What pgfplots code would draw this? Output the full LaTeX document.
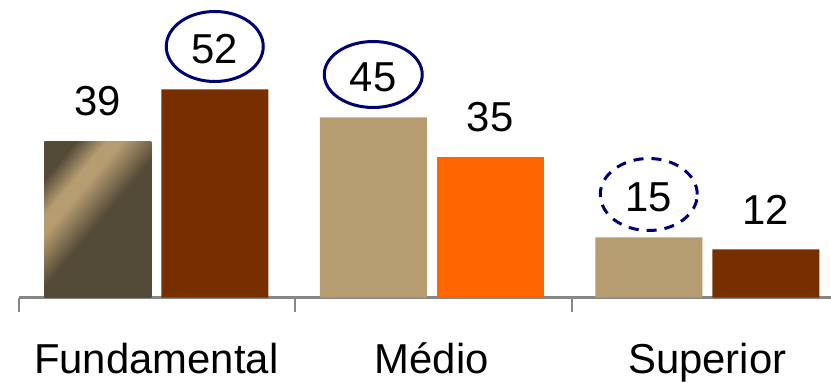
\documentclass[border=0pt]{standalone}
\usepackage{pgfplots}
\pgfplotsset{compat=1.18}
\usepackage{fontspec}
\setmainfont{Liberation Sans}

\definecolor{sand}{HTML}{B59C71}
\definecolor{olive}{HTML}{544A38}
\definecolor{rust}{HTML}{772F00}
\definecolor{flame}{HTML}{FF6600}
\definecolor{navy}{HTML}{000075}
\definecolor{rule}{HTML}{878787}

% diagonal highlight for the first bar
\pgfdeclarehorizontalshading{sheen}{100bp}{%
  color(0bp)=(olive); color(24bp)=(olive); color(33bp)=(sand);
  color(38bp)=(sand); color(51bp)=(olive); color(100bp)=(olive)}

\newcommand\labelfont{\fontsize{42}{50}\selectfont}

\begin{document}
\begin{tikzpicture}
\path[use as bounding box] (0,0) rectangle (831bp,383bp);
\begin{axis}[
  at={(18.5bp,85.5bp)}, anchor=south west,
  scale only axis, x=275.5bp, y=4bp,
  xmin=-0.5, xmax=2.5, ymin=0, ymax=70,
  axis x line*=bottom, axis y line=none,
  xtick={-0.5,0.505,1.51,2.5}, xticklabels={},
  tick align=outside, major tick length=14bp,
  x axis line style={draw=rule, line width=2bp},
  every tick/.style={draw=rule, line width=2bp},
  clip=false,
  ybar, bar width=107bp,
  nodes near coords,
  /pgf/number format/assume math mode=true,
  every node near coord/.append style={font=\labelfont, inner sep=0pt,
    anchor=south, yshift=25bp, text=black},
]
% first bar of each group
\addplot[bar shift=-58.5bp, draw=none, fill=sand]
  coordinates {(1,45) (2,15)};
\addplot[bar shift=-58.5bp, draw=none, shading=sheen, shading angle=-40]
  coordinates {(0,39)};
% second bar of each group
\addplot[bar shift=58.5bp, draw=none, fill=rust]
  coordinates {(0,52) (2,12)};
\addplot[bar shift=58.5bp, draw=none, fill=flame]
  coordinates {(1,35)};

% highlighted values
\draw[navy, line width=3bp] ([xshift=58.5bp,yshift=43bp]axis cs:0,52)
  ellipse [x radius=48.5bp, y radius=35bp];
\draw[navy, line width=3bp] ([xshift=-58.5bp,yshift=43bp]axis cs:1,45)
  ellipse [x radius=49bp, y radius=33bp];
\draw[navy, line width=3bp, dash pattern=on 10bp off 8bp]
  ([xshift=-58.5bp,yshift=43bp]axis cs:2,15)
  ellipse [x radius=48.5bp, y radius=36bp];

% group names
\node[font=\labelfont, anchor=base] at ([yshift=-75.5bp]axis cs:0,0) {Fundamental};
\node[font=\labelfont, anchor=base] at ([yshift=-75.5bp]axis cs:1,0) {Médio};
\node[font=\labelfont, anchor=base] at ([yshift=-75.5bp]axis cs:2,0) {Superior};
\end{axis}
\end{tikzpicture}
\end{document}
